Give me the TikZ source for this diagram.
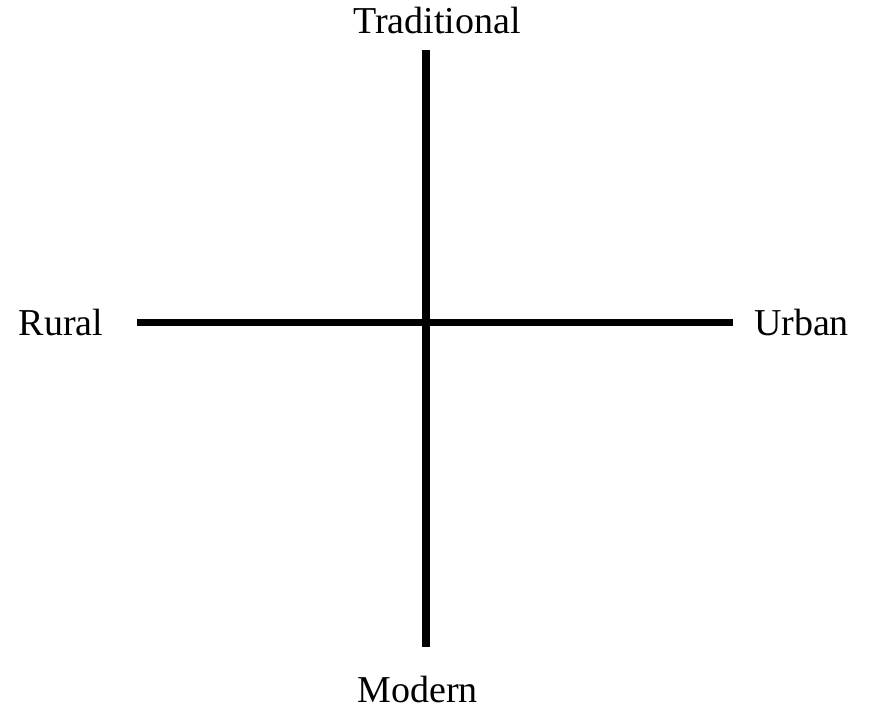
\documentclass[tikz,border=0pt]{standalone}
\usepackage{fontspec}
\setmainfont{Liberation Serif}
\begin{document}
\begin{tikzpicture}[x=1pt,y=-1pt,
  lbl/.style={inner sep=0pt,anchor=base,font=\fontsize{38}{44}\selectfont},
  axis/.style={line width=7.5pt,black}]
\useasboundingbox (0,0) rectangle (871,713);
\coordinate (top) at (426,50);
\coordinate (bot) at (426,647);
\coordinate (left) at (137,322.5);
\coordinate (right) at (733,322.5);
\draw[axis] (top) -- (bot);
\draw[axis] (left) -- (right);
\node[lbl] (trad) at (437,33) {Traditional};
\node[lbl] (mod) at (417.5,702) {Modern};
\node[lbl] (rural) at (61,335) {Rural};
\node[lbl] (urban) at (801.5,335) {Urban};
\end{tikzpicture}
\end{document}
